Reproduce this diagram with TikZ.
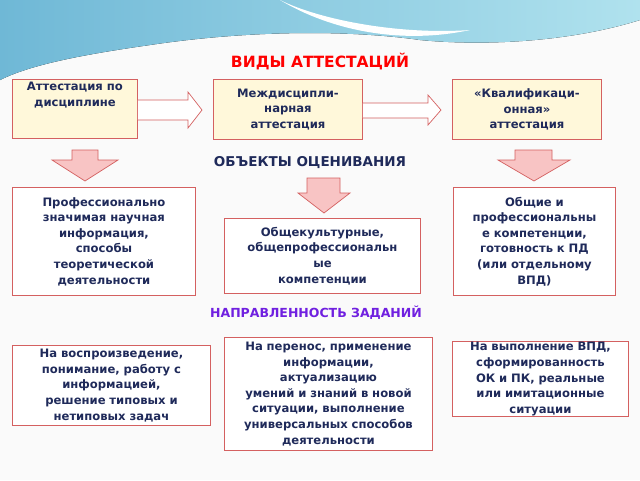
\documentclass[tikz,border=0pt]{standalone}
\usepackage{fontspec}
\setmainfont{DejaVu Sans}
\begin{document}
\begin{tikzpicture}[x=1pt,y=-1pt,
 txt/.style={font=\bfseries\fontsize{11.6}{15.6}\selectfont,text=navy,align=center},
 box/.style={draw=boxred,line width=0.9pt,inner sep=2pt},
 ybox/.style={box,fill=lyel},
 wbox/.style={box,fill=white},
 rarr/.style={draw=boxred,fill=white,line width=0.7pt},
 darr/.style={draw=boxred,fill=pinkf,line width=0.7pt}]
\definecolor{navy}{HTML}{1F2A5A}
\definecolor{boxred}{HTML}{D46060}
\definecolor{lyel}{HTML}{FFF8DA}
\definecolor{pinkf}{HTML}{F8C4C4}
\definecolor{wave1}{HTML}{6FB8D6}
\definecolor{wave2}{HTML}{B0E2EE}
\useasboundingbox (0,0) rectangle (640,480);
\fill[white!96!gray] (0,0) rectangle (640,480);
\fill[left color=wave1,right color=wave2] (0,0) -- (640,0) -- (640,20) .. controls (560,45) and (470,45) .. (420,40) .. controls (350,30) and (250,30) .. (150,45) .. controls (80,55) and (30,65) .. (0,80) -- cycle;
\fill[white] (280,0) .. controls (320,20) and (400,35) .. (470,30) .. controls (400,45) and (330,30) .. (280,0);
\node[font=\bfseries\fontsize{15.5}{18}\selectfont,text=red] (t1) at (320,62) {ВИДЫ АТТЕСТАЦИЙ};
\node[ybox,anchor=north west,minimum width=125,minimum height=59] (a1) at (12,79) {};
\node[txt,anchor=north] (a1t) at (a1.north) {Аттестация по\\дисциплине};
\node[ybox,txt,anchor=north west,minimum width=149,minimum height=60,text width=146,inner sep=1pt] (a2) at (213,79) {Междисципли-\\нарная\\аттестация};
\node[ybox,txt,anchor=north west,minimum width=149,minimum height=60,text width=146,inner sep=1pt] (a3) at (452,79) {«Квалификаци-\\онная»\\аттестация};
\draw[rarr] (a1.east |- 0,100) -- (188,100) -- (188,92) -- (202,110) -- (188,128) -- (188,120) -- (a1.east |- 0,120) ;
\draw[rarr] (a2.east |- 0,103) -- (428,103) -- (428,95) -- (441,110) -- (428,125) -- (428,118) -- (a2.east |- 0,118);
\node[font=\bfseries\fontsize{13.5}{16}\selectfont,text=navy] (t2) at (310,163) {ОБЪЕКТЫ ОЦЕНИВАНИЯ};
\draw[darr] (72,150) -- (98,150) -- (98,160) -- (118,160) -- (85,181) -- (52,160) -- (72,160) -- cycle;
\draw[darr] (515,150) -- (552,150) -- (552,160) -- (570,160) -- (534,181) -- (498,160) -- (515,160) -- cycle;
\draw[darr] (307,178) -- (340,178) -- (340,193) -- (350,193) -- (324,213) -- (298,193) -- (307,193) -- cycle;
\node[wbox,txt,anchor=north west,minimum width=183,minimum height=108,text width=180,inner sep=1pt] (b1) at (12,187) {Профессионально\\значимая научная\\информация,\\способы\\теоретической\\деятельности};
\node[wbox,txt,anchor=north west,minimum width=196,minimum height=75,text width=194,inner sep=1pt] (b2) at (224,218) {Общекультурные,\\общепрофессиональн\\ые\\компетенции};
\node[wbox,txt,anchor=north west,minimum width=162,minimum height=108,text width=160,inner sep=1pt] (b3) at (453,187) {Общие и\\профессиональны\\е компетенции,\\готовность к ПД\\(или отдельному\\ВПД)};
\node[font=\bfseries\fontsize{12.5}{15}\selectfont,text={rgb,255:red,112;green,32;blue,224}] (t3) at (316,313) {НАПРАВЛЕННОСТЬ ЗАДАНИЙ};
\node[wbox,txt,anchor=north west,minimum width=198,minimum height=80,text width=196,inner sep=1pt] (c1) at (12,345) {На воспроизведение,\\понимание, работу с\\информацией,\\решение типовых и\\нетиповых задач};
\node[wbox,txt,anchor=north west,minimum width=208,minimum height=113,text width=206,inner sep=1pt] (c2) at (224,337) {На перенос, применение\\информации,\\актуализацию\\умений и знаний в новой\\ситуации, выполнение\\универсальных способов\\деятельности};
\node[wbox,txt,anchor=north west,minimum width=176,minimum height=74,text width=174,inner sep=1pt] (c3) at (452,341) {На выполнение ВПД,\\сформированность\\ОК и ПК, реальные\\или имитационные\\ситуации};
\end{tikzpicture}
\end{document}
